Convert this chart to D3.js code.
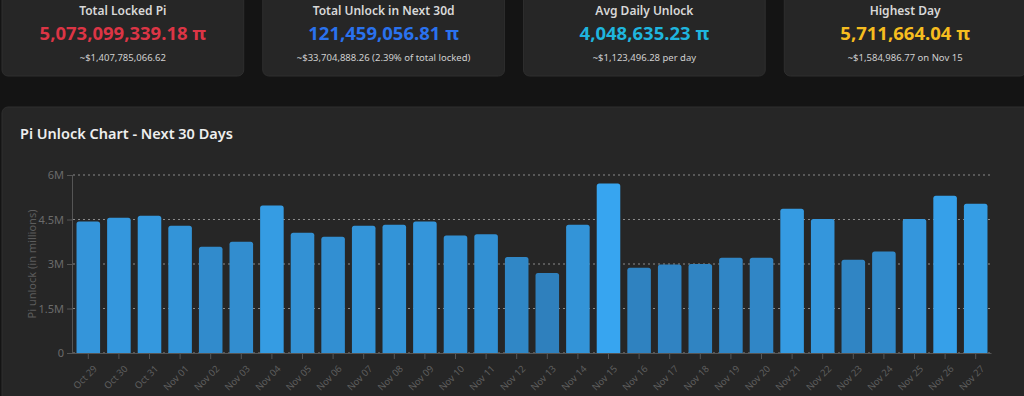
<!DOCTYPE html>
<html><head><meta charset="utf-8">
<script src="https://cdn.jsdelivr.net/npm/d3@7/dist/d3.min.js"></script>
<style>
html,body{margin:0;padding:0;background:#141414;overflow:hidden;}
svg{display:block;font-family:"Noto Sans","Open Sans",sans-serif;}
</style></head>
<body><svg id="c" width="1024" height="396"></svg>
<script>
const categories = ["Oct 29","Oct 30","Oct 31","Nov 01","Nov 02","Nov 03","Nov 04","Nov 05","Nov 06","Nov 07",
  "Nov 08","Nov 09","Nov 10","Nov 11","Nov 12","Nov 13","Nov 14","Nov 15","Nov 16","Nov 17",
  "Nov 18","Nov 19","Nov 20","Nov 21","Nov 22","Nov 23","Nov 24","Nov 25","Nov 26","Nov 27"];
const unlockValues = [4.43,4.56,4.63,4.29,3.58,3.75,4.97,4.05,3.92,4.29,
  4.32,4.43,3.96,4.00,3.24,2.70,4.32,5.71,2.87,2.98,
  3.00,3.21,3.21,4.86,4.52,3.14,3.42,4.52,5.30,5.03];
const yTicks = [0,1.5,3,4.5,6];
const yTickLabels = ["0","1.5M","3M","4.5M","6M"];
const cardTitles = ["Total Locked Pi","Total Unlock in Next 30d","Avg Daily Unlock","Highest Day"];
const cardValues = ["5,073,099,339.18 π","121,459,056.81 π","4,048,635.23 π","5,711,664.04 π"];
const cardSubs = ["~$1,407,785,066.62","~$33,704,888.26 (2.39% of total locked)","~$1,123,496.28 per day","~$1,584,986.77 on Nov 15"];
const cardColors = ["#dc3545","#2a72ee","#1fb5de","#f6bd1f"];

(function(){
const svg = d3.select("#c");

// cards
const cardX = d3.scaleBand().domain(d3.range(4)).range([2, 1026]).paddingInner(0.073);
const cards = svg.selectAll("g.card").data(d3.range(4)).join("g").attr("class","card")
  .attr("transform", i => `translate(${cardX(i)},-8)`);
cards.append("rect").attr("width", cardX.bandwidth()).attr("height", 84).attr("rx", 6)
  .attr("fill", "#262626").attr("stroke", "#2e2e2e");
cards.append("text").attr("x", cardX.bandwidth()/2).attr("y", 23).attr("text-anchor","middle")
  .attr("font-size", 12).attr("font-weight", 600).attr("fill", "#d8d8d8").text(i => cardTitles[i]);
cards.append("text").attr("x", cardX.bandwidth()/2).attr("y", 48).attr("text-anchor","middle")
  .attr("font-size", 18.5).attr("font-weight", 700).attr("fill", i => cardColors[i]).text(i => cardValues[i]);
cards.append("text").attr("x", cardX.bandwidth()/2).attr("y", 69).attr("text-anchor","middle")
  .attr("font-size", 9.5).attr("fill", "#d0d0d0").text(i => cardSubs[i]);

// chart panel
svg.append("rect").attr("x", 2).attr("y", 107).attr("width", 1040).attr("height", 310).attr("rx", 6)
  .attr("fill", "#262626").attr("stroke", "#2e2e2e");
svg.append("text").attr("x", 20).attr("y", 139).attr("font-size", 14.5).attr("font-weight", 600)
  .attr("fill", "#eeeeee").text("Pi Unlock Chart - Next 30 Days");

const left = 73, right = 991, plotTop = 175, bottom = 353;
const x = d3.scaleBand().domain(categories).range([left, right]).paddingInner(0.23).paddingOuter(0.115);
const y = d3.scaleLinear().domain([0, 6]).range([bottom, plotTop]);
const color = d3.scaleLinear().domain([d3.min(unlockValues), d3.max(unlockValues)])
  .range(["#2f80bd", "#37a5f0"]).interpolate(d3.interpolateRgb);

// grid
svg.append("g").selectAll("line").data(yTicks).join("line")
  .attr("x1", left).attr("x2", right).attr("y1", d => y(d)).attr("y2", d => y(d))
  .attr("stroke", "#8a8a8a").attr("stroke-width", 1).attr("stroke-dasharray", "2,3");

// bars
const barR = 2.5;
svg.append("g").selectAll("path").data(unlockValues).join("path")
  .attr("fill", d => color(d))
  .attr("d", (d, i) => {
    const x0 = x(categories[i]), w = x.bandwidth(), y0 = y(d), r = barR;
    return `M${x0},${bottom}V${y0 + r}Q${x0},${y0} ${x0 + r},${y0}H${x0 + w - r}Q${x0 + w},${y0} ${x0 + w},${y0 + r}V${bottom}Z`;
  });

// y axis
const yAxis = d3.axisLeft(y).tickValues(yTicks).tickFormat((d, i) => yTickLabels[i]).tickSize(6).tickPadding(3);
const ya = svg.append("g").attr("transform", `translate(${left},0)`).call(yAxis);
ya.select(".domain").attr("stroke", "#555").attr("d", `M-0.5,${plotTop}V${bottom}`);
ya.selectAll(".tick line").attr("stroke", "#555");
ya.selectAll(".tick text").attr("fill", "#6b6b6b").attr("font-size", 11).attr("font-family", "Noto Sans");

// x axis
const xAxis = d3.axisBottom(x).tickSize(6).tickSizeOuter(0);
const xa = svg.append("g").attr("transform", `translate(0,${bottom})`).call(xAxis);
xa.select(".domain").attr("stroke", "#555");
xa.selectAll(".tick line").attr("stroke", "#555");
xa.selectAll(".tick text").attr("fill", "#5e5e5e").attr("font-size", 9.5).attr("font-family", "Noto Sans")
  .attr("text-anchor", "end").attr("dx", "0").attr("dy", "0")
  .attr("transform", "translate(3,10) rotate(-45)");

// y axis title
svg.append("text").attr("transform", "translate(36,264) rotate(-90)").attr("text-anchor", "middle")
  .attr("font-size", 11).attr("fill", "#5c5c5c").text("Pi unlock (in millions)");
})();
</script></body></html>
